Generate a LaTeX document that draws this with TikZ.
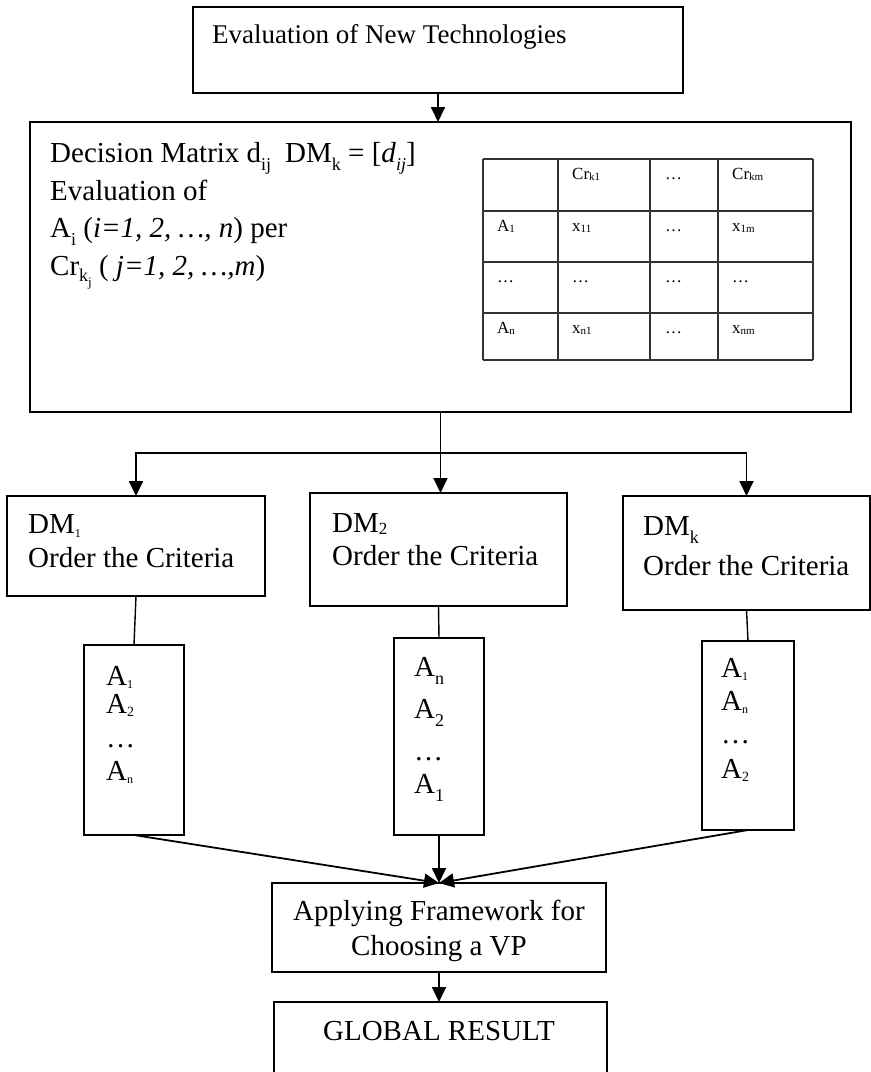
\documentclass[tikz,border=0pt]{standalone}
\usepackage{fontspec}
\setmainfont{Liberation Serif}
\usetikzlibrary{arrows.meta}

% font size helper and lowered (word-processor style) subscripts
\newcommand\fs[1]{\fontsize{#1}{#1}\selectfont}
\newcommand\lowsub[3]{\raisebox{-#1pt}{\fs{#2}#3}}% drop, size, text

\tikzset{
  frame/.style={draw, line width=1.9pt, inner sep=0pt, outer sep=0pt},
  conn/.style={line width=1.8pt},
  arr/.style={conn, -{Triangle[length=15pt,width=14pt]}},
  thinlink/.style={line width=1.4pt},
  txt/.style={anchor=base west, inner sep=0pt, font=\fs{29}},
  ctxt/.style={anchor=base, inner sep=0pt, font=\fs{29}},
  cell/.style={anchor=base west, inner sep=0pt, font=\fs{17}},
  gridline/.style={line width=1.2pt, draw=black!80},
}

\begin{document}
\begin{tikzpicture}[x=1pt,y=-1pt]
\useasboundingbox (0,0) rectangle (871,1072);
\clip (0,0) rectangle (871,1072);

% ---------- boxes ----------
\node[frame, minimum width=490pt, minimum height=86pt]  (top)    at (438,50) {};
\node[frame, minimum width=821pt, minimum height=290pt] (big)    at (440.5,267) {};
\node[frame, minimum width=258pt, minimum height=100pt] (dm1)    at (136,546) {};
\node[frame, minimum width=257pt, minimum height=113pt] (dm2)    at (438.5,549.5) {};
\node[frame, minimum width=247pt, minimum height=114pt] (dmk)    at (746.5,553) {};
\node[frame, minimum width=100pt, minimum height=190pt] (alt1)   at (134,740) {};
\node[frame, minimum width=90pt,  minimum height=197pt] (alt2)   at (439,736.5) {};
\node[frame, minimum width=92pt,  minimum height=189pt] (alt3)   at (748,735.5) {};
\node[frame, minimum width=334pt, minimum height=89pt]  (apply)  at (439,927.5) {};
\node[frame, minimum width=333pt, minimum height=88pt]  (global) at (440.5,1046) {};

% ---------- texts ----------
\node[txt, font=\fs{27}] (title) at (212,43) {Evaluation of New Technologies};

\node[txt] (bl1) at (50,162) {Decision Matrix d\lowsub{8}{18}{ij}\hspace{14pt}DM\lowsub{8}{18}{k} = [\textit{d}\lowsub{8}{18}{\textit{ij}}]};
\node[txt] (bl2) at (50,200) {Evaluation of};
\node[txt] (bl3) at (50,237) {A\lowsub{8}{18}{i} (\textit{i=1, 2, …, n}) per};
\node[txt] (bl4) at (50,275) {Cr\lowsub{6}{18}{k\lowsub{5}{13}{j}} (\textit{ j=1, 2, …,m})};

\node[txt] (dm1a) at (28,533)  {DM\lowsub{4}{12}{1}};
\node[txt] (dm1b) at (28,567)  {Order the Criteria};
\node[txt] (dm2a) at (332,532) {DM\lowsub{2}{17}{2}};
\node[txt] (dm2b) at (332,565) {Order the Criteria};
\node[txt] (dmka) at (643,535) {DM\lowsub{8}{18}{k}};
\node[txt] (dmkb) at (643,575) {Order the Criteria};

\node[txt] (a1r1) at (106,685) {A\lowsub{3}{12}{1}};
\node[txt] (a1r2) at (106,713) {A\lowsub{3}{14}{2}};
\node[txt] (a1r3) at (106,747) {…};
\node[txt] (a1r4) at (106,780) {A\lowsub{3}{12}{n}};

\node[txt] (a2r1) at (414,676) {A\lowsub{8}{18}{n}};
\node[txt] (a2r2) at (414,718) {A\lowsub{8}{18}{2}};
\node[txt] (a2r3) at (414,760) {…};
\node[txt] (a2r4) at (414,793) {A\lowsub{8}{18}{1}};

\node[txt] (a3r1) at (721,677) {A\lowsub{3}{12}{1}};
\node[txt] (a3r2) at (721,710) {A\lowsub{3}{12}{n}};
\node[txt] (a3r3) at (721,743) {…};
\node[txt] (a3r4) at (721,778) {A\lowsub{3}{14}{2}};

\node[ctxt] (ap1) at (439,920) {Applying Framework for};
\node[ctxt] (ap2) at (439,955) {Choosing a VP};
\node[ctxt] (gr)  at (439,1040) {GLOBAL RESULT};

% ---------- decision matrix table ----------
\foreach \y in {159,211,262,313,360}
  \draw[gridline] (483,\y) -- (813,\y);
\foreach \x in {483,558,650,718,813}
  \draw[gridline] (\x,159) -- (\x,360);

\node[cell] (c01) at (572,179) {Cr\lowsub{1}{11}{k1}};
\node[cell] (c02) at (665,179) {…};
\node[cell] (c03) at (732,179) {Cr\lowsub{1}{11}{km}};
\node[cell] (c10) at (497,231) {A\lowsub{1}{11}{1}};
\node[cell] (c11) at (572,231) {x\lowsub{1}{11}{11}};
\node[cell] (c12) at (665,231) {…};
\node[cell] (c13) at (732,231) {x\lowsub{1}{11}{1m}};
\node[cell] (c20) at (497,282) {…};
\node[cell] (c21) at (572,282) {…};
\node[cell] (c22) at (665,282) {…};
\node[cell] (c23) at (732,282) {…};
\node[cell] (c30) at (497,333) {A\lowsub{1}{11}{n}};
\node[cell] (c31) at (572,333) {x\lowsub{1}{11}{n1}};
\node[cell] (c32) at (665,333) {…};
\node[cell] (c33) at (732,333) {x\lowsub{1}{11}{nm}};

% ---------- connectors ----------
\draw[arr] (top.south) -- (top.south |- big.north);

\coordinate (fork) at (440.5,453);
\draw[conn] (big.south) -- (fork);
\draw[arr] (fork) -- (fork |- dm2.north);
\draw[arr] (fork) -| (dm1.north);
\draw[arr] (fork) -| (dmk.north);

\draw[thinlink] (dm1.south) -- (alt1.north);
\draw[thinlink] (dm2.south) -- (alt2.north);
\draw[thinlink] (dmk.south) -- (alt3.north);

\draw[arr] (alt1.south) -- (apply.north);
\draw[arr] (alt2.south) -- (apply.north);
\draw[arr] (alt3.south) -- (apply.north);

\draw[arr] (apply.south) -- (apply.south |- global.north);
\end{tikzpicture}
\end{document}
